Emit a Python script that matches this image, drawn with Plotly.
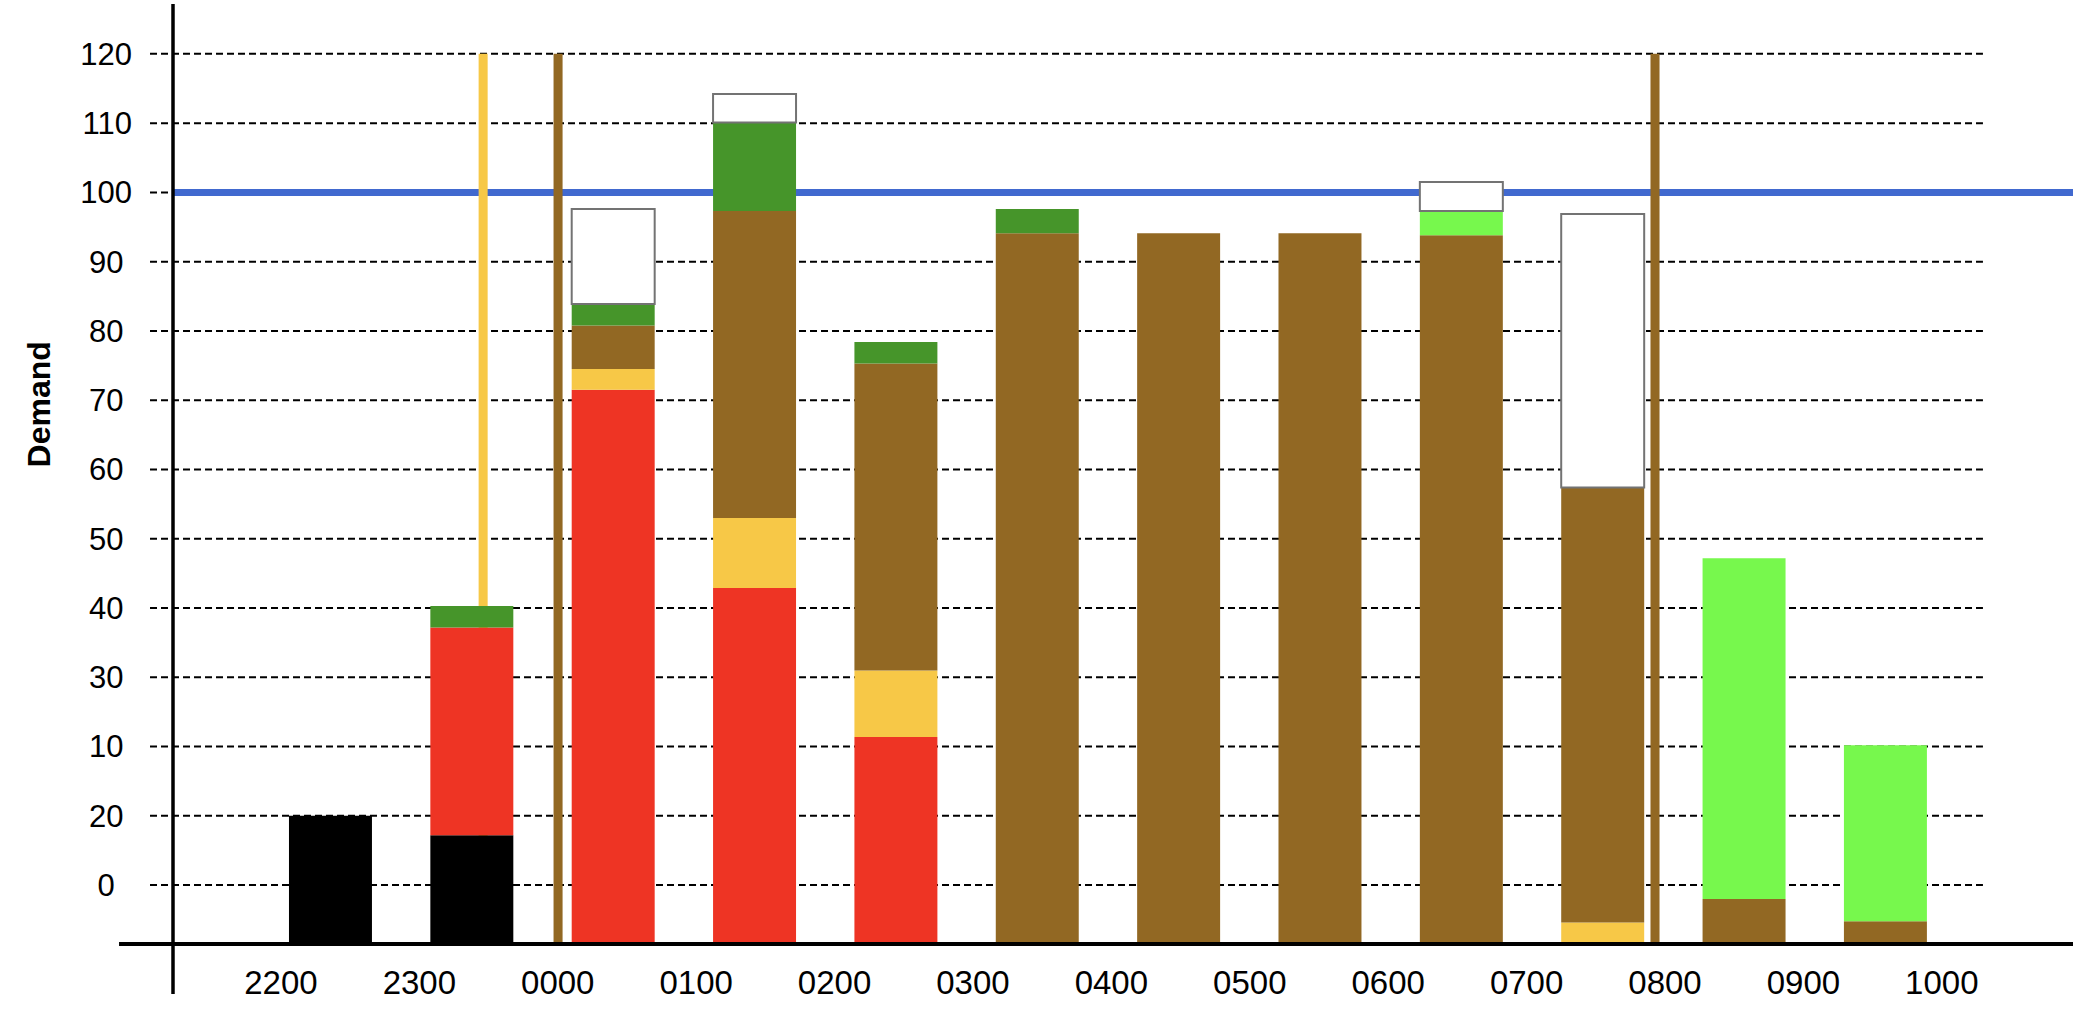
import numpy as np
import plotly.graph_objects as go

# ---------------- data ----------------
bar_hours = ["2200", "2300", "0000", "0100", "0200", "0300",
             "0400", "0500", "0600", "0700", "0800", "0900"]
tick_labels = ["2200", "2300", "0000", "0100", "0200", "0300", "0400",
               "0500", "0600", "0700", "0800", "0900", "1000"]

# stacked segment heights measured from the baseline (BASE)
black_vals   = [18.5, 15.7, None, None, None, None, None, None, None, None, None, None]
red_vals     = [None, 30.0, 80.0, 51.4, 29.9, None, None, None, None, None, None, None]
yellow_vals  = [None, None, 3.0, 10.1, 9.6, None, None, None, None, 3.1, None, None]
brown_vals   = [None, None, 6.3, 44.3, 44.3, 102.6, 102.6, 102.6, 102.3, 62.8, 6.5, 3.3]
dkgreen_vals = [None, 3.1, 3.1, 12.8, 3.1, 3.5, None, None, None, None, None, None]
ltgreen_vals = [None, None, None, None, None, None, None, None, 3.5, None, 49.2, 25.4]
white_vals   = [None, None, 13.7, 4.1, None, None, None, None, 4.2, 39.5, None, None]

BASE = -8.5
threshold = 100
marker_times = [1.58, 2.11, 9.87]     # hours since 22:00
marker_top = 120

y_tick_vals = [0, 10, 20, 30, 40, 50, 60, 70, 80, 90, 100, 110, 120]
y_tick_text = ["0", "20", "10", "30", "40", "50", "60", "70", "80", "90", "100", "110", "120"]

# ---------------- styles ----------------
C_BLACK = "#000000"
C_RED = "#EE3424"
C_YELLOW = "#F7C847"
C_BROWN = "#926823"
C_DKGREEN = "#46952A"
C_LTGREEN = "#77F84D"
C_WHITE = "#FFFFFF"
C_BLUE = "#4169CF"
marker_colors = [C_YELLOW, C_BROWN, C_BROWN]
FONT = "Liberation Sans, Arial, Helvetica, sans-serif"

fig = go.Figure()

x_pos = np.arange(len(bar_hours)) + 0.5

# vertical time markers (thin bars drawn first so the stacks cover them)
for t, c in zip(marker_times, marker_colors):
    fig.add_trace(go.Bar(x=[t], y=[marker_top - BASE], base=[BASE], width=0.064,
                         marker=dict(color=c, line=dict(width=0)),
                         showlegend=False, hoverinfo="skip"))

series = [
    ("Black", black_vals, C_BLACK),
    ("Red", red_vals, C_RED),
    ("Yellow", yellow_vals, C_YELLOW),
    ("Brown", brown_vals, C_BROWN),
    ("Dark green", dkgreen_vals, C_DKGREEN),
    ("Light green", ltgreen_vals, C_LTGREEN),
    ("Spare", white_vals, C_WHITE),
]
bottom = np.full(len(bar_hours), BASE, dtype=float)
for name, vals, color in series:
    v = np.array([np.nan if a is None else a for a in vals], dtype=float)
    line = dict(width=2, color="#737373") if color == C_WHITE else dict(width=0)
    fig.add_trace(go.Bar(x=x_pos, y=v, base=bottom.copy(), width=0.587, name=name,
                         marker=dict(color=color, line=line), showlegend=False,
                         customdata=bar_hours, hovertemplate="%{customdata}: %{y}<extra></extra>"))
    bottom = bottom + np.nan_to_num(v)

# invisible trace to carry the hour tick labels axis
fig.add_trace(go.Scatter(x=tick_labels, y=[None] * len(tick_labels), xaxis="x2",
                         mode="lines", showlegend=False, hoverinfo="skip"))

shapes = []
# dashed gridlines
for yv in y_tick_vals:
    shapes.append(dict(type="line", xref="paper", yref="y", x0=-0.0121, x1=0.9526,
                       y0=yv, y1=yv, layer="below",
                       line=dict(color="black", width=2, dash="7px,4px")))
# threshold line
shapes.append(dict(type="line", xref="x domain", yref="y", x0=0, x1=1,
                   y0=threshold, y1=threshold, layer="below",
                   line=dict(color=C_BLUE, width=7)))
# axis lines (cross style)
shapes.append(dict(type="line", xref="paper", yref="paper", x0=0, x1=0,
                   y0=-0.0532, y1=1.0, layer="above", line=dict(color="black", width=3.5)))
shapes.append(dict(type="line", xref="paper", yref="paper", x0=-0.0284, x1=1.0,
                   y0=0, y1=0, layer="above", line=dict(color="black", width=4)))

fig.update_layout(
    width=2073, height=1016,
    margin=dict(l=173, r=0, t=4, b=72),
    paper_bgcolor="white", plot_bgcolor="rgba(0,0,0,0)",
    barmode="overlay", showlegend=False,
    font=dict(family=FONT, color="black"),
    shapes=shapes,
    xaxis=dict(range=[-0.614, 12.827], showgrid=False, zeroline=False,
               showline=False, showticklabels=False, ticks=""),
    xaxis2=dict(overlaying="x", side="bottom", anchor="y", type="category",
                categoryorder="array", categoryarray=tick_labels,
                range=[-0.780, 12.948], showgrid=False, zeroline=False,
                showline=False, ticks="", tickfont=dict(size=33, family=FONT),
                ticklabelstandoff=16),
    yaxis=dict(range=[BASE, 127.2], showgrid=False, zeroline=False, showline=False,
               tickmode="array", tickvals=y_tick_vals,
               ticktext=[t + "\u00a0" * (3 - len(t)) for t in y_tick_text],
               ticks="", tickfont=dict(size=31, family=FONT), ticklabelstandoff=40),
    annotations=[dict(text="<b>Demand</b>", xref="paper", yref="paper",
                      x=-0.0708, y=0.5745, xanchor="center", yanchor="middle",
                      textangle=-90, showarrow=False,
                      font=dict(size=32, family=FONT, color="black"))],
)

fig.write_html("out.html", config={"displayModeBar": False},
               post_script="document.body.style.margin='0';document.body.style.overflow='hidden';")
